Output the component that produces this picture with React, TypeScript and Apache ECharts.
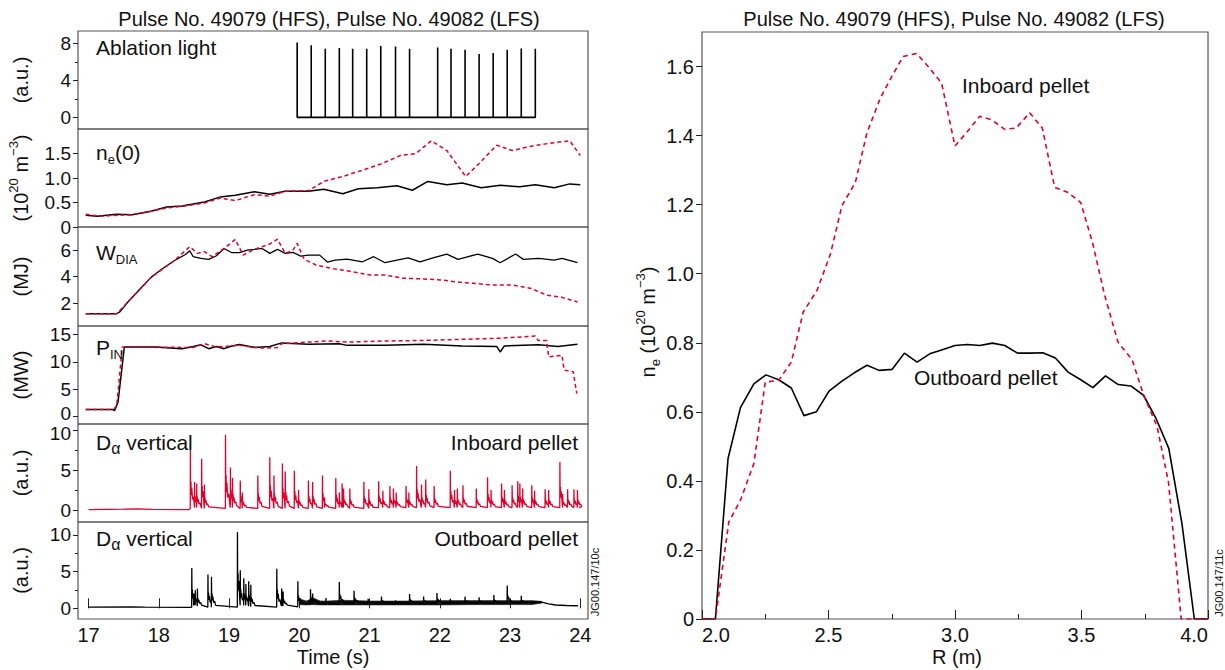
import React, { useEffect, useRef } from 'react';
import * as echarts from 'echarts';

const TITLE = 'Pulse No. 49079 (HFS), Pulse No. 49082 (LFS)';
const FONT = '"Liberation Sans", Arial, Helvetica, sans-serif';
const RED = '#e3002b';

// ---- tick values ----
const timeTicks = [17, 18, 19, 20, 21, 22, 23, 24];
const ablTicks = [0, 4, 8];
const ablMinor = [2, 6];
const neTicks = [0, 0.5, 1.0, 1.5];
const wTicks = [2, 4, 6];
const pTicks = [0, 5, 10, 15];
const daTicks = [0, 5, 10];
const daMinor = [2.5, 7.5];
const rTicks = [2.0, 2.5, 3.0, 3.5, 4.0];
const rMinor = [2.25, 2.75, 3.25, 3.75];
const profTicks = [0, 0.2, 0.4, 0.6, 0.8, 1.0, 1.2, 1.4, 1.6];

// ---- ablation light (pellet times / heights) ----
const ablationT = [19.97, 20.17, 20.37, 20.57, 20.76, 20.96, 21.16, 21.37, 21.57, 21.97, 22.16, 22.36, 22.56, 22.76, 22.96, 23.16, 23.36];
const ablationH = [8.1, 7.8, 7.4, 7.5, 7.4, 7.4, 7.7, 7.65, 7.4, 7.55, 7.4, 7.3, 6.85, 6.95, 7.3, 7.45, 7.4];

// ---- central density ----
const neOutboard: number[][] = [[16.96,0.24],[17.12,0.22],[17.40,0.26],[17.62,0.25],[17.89,0.32],[18.11,0.41],[18.33,0.43],[18.65,0.51],[18.87,0.61],[19.09,0.65],[19.36,0.72],[19.58,0.67],[19.80,0.73],[20.13,0.73],[20.35,0.77],[20.62,0.68],[20.84,0.78],[21.11,0.80],[21.39,0.84],[21.61,0.75],[21.83,0.93],[22.10,0.86],[22.32,0.90],[22.59,0.80],[22.86,0.85],[23.14,0.82],[23.36,0.86],[23.63,0.80],[23.85,0.88],[24.0,0.86]];
const neInboard: number[][] = [[16.96,0.26],[17.18,0.22],[17.40,0.24],[17.62,0.25],[17.89,0.32],[18.11,0.39],[18.33,0.42],[18.65,0.49],[18.87,0.59],[19.09,0.54],[19.36,0.66],[19.58,0.63],[19.80,0.73],[20.13,0.74],[20.35,0.93],[20.62,1.03],[20.90,1.16],[21.17,1.29],[21.44,1.46],[21.66,1.50],[21.88,1.76],[22.10,1.56],[22.37,1.03],[22.59,1.34],[22.81,1.67],[23.03,1.56],[23.30,1.65],[23.57,1.71],[23.85,1.76],[24.0,1.46]];

// ---- diamagnetic energy ----
const wOutboard: number[][] = [[16.96,1.22],[17.40,1.22],[17.45,1.38],[17.56,2.1],[17.72,3.0],[17.89,3.95],[18.05,4.6],[18.22,5.2],[18.38,5.67],[18.44,5.95],[18.49,5.5],[18.60,5.38],[18.71,5.3],[18.82,5.57],[18.93,6.12],[19.04,5.8],[19.15,5.8],[19.26,6.0],[19.36,6.05],[19.47,6.12],[19.58,5.75],[19.69,6.05],[19.80,5.75],[19.91,5.82],[20.02,5.55],[20.13,5.62],[20.29,5.62],[20.40,5.1],[20.51,5.25],[20.68,5.32],[20.90,5.12],[21.06,5.5],[21.22,5.05],[21.39,5.25],[21.55,5.42],[21.72,5.12],[21.88,5.38],[22.10,5.7],[22.26,5.3],[22.54,5.7],[22.75,5.38],[22.86,5.05],[23.08,5.7],[23.19,5.3],[23.41,5.38],[23.63,5.25],[23.74,5.38],[23.96,5.05]];
const wInboard: number[][] = [[16.96,1.22],[17.40,1.22],[17.56,2.1],[17.89,3.95],[18.22,5.2],[18.44,6.25],[18.55,5.75],[18.65,5.88],[18.76,5.5],[18.93,6.12],[19.09,6.8],[19.20,5.62],[19.36,6.05],[19.58,6.45],[19.69,6.82],[19.80,5.75],[19.91,6.0],[19.97,6.5],[20.07,5.3],[20.24,4.88],[20.46,4.62],[20.68,4.45],[21.01,4.12],[21.22,4.12],[21.50,3.88],[21.77,3.83],[22.04,3.75],[22.21,3.62],[22.48,3.5],[22.75,3.38],[23.03,3.38],[23.30,3.12],[23.52,2.62],[23.74,2.45],[23.96,2.1]];

// ---- input power ----
const pOutboard: number[][] = [[16.96,1.33],[17.34,1.33],[17.37,1.1],[17.42,2.7],[17.51,12.7],[17.94,12.7],[18.33,12.4],[18.49,12.8],[18.60,13.1],[18.71,12.4],[18.82,12.8],[18.93,12.4],[19.04,12.9],[19.15,13.15],[19.36,12.6],[19.58,12.8],[19.75,13.45],[20.13,13.2],[20.57,13.3],[20.68,13.0],[21.22,13.0],[21.77,13.2],[22.32,12.9],[22.81,12.8],[22.86,11.8],[22.92,12.9],[23.41,13.1],[23.68,12.8],[23.96,13.2]];
const pInboard: number[][] = [[16.96,1.33],[17.34,1.33],[17.40,1.8],[17.48,12.7],[17.94,12.7],[18.49,12.6],[18.65,13.3],[18.82,12.7],[19.15,13.0],[19.47,12.5],[19.69,12.6],[19.75,13.3],[20.13,13.6],[20.40,13.8],[20.68,13.6],[21.22,13.8],[21.77,13.9],[22.32,14.1],[22.59,14.2],[22.86,14.3],[23.36,14.7],[23.40,13.9],[23.52,13.9],[23.55,10.9],[23.74,11.2],[23.77,8.5],[23.90,8.2],[23.95,4.2]];

// ---- D-alpha: [time, peak, base] ----
const daInQuiet: number[][] = [[17.0,0.05],[17.5,0.1],[17.7,0.15],[17.9,0.08],[18.43,0.05]];
const daInSpikes: number[][] = [[18.45,7.6,0.2],[18.51,3.5,0.3],[18.54,3.3,0.3],[18.61,6.4,0.2],[18.65,3.2,0.2],[18.95,9.4,0.2],[19.02,5.3,0.3],[19.05,4.0,0.3],[19.16,3.7,0.2],[19.19,2.2,0.2],[19.41,4.3,0.2],[19.58,6.6,0.2],[19.64,4.3,0.2],[19.76,5.8,0.2],[19.80,4.8,0.2],[19.93,4.9,0.2],[19.99,2.5,0.2],[20.13,3.7,0.2],[20.19,3.5,0.2],[20.33,4.3,0.2],[20.36,1.5,0.3],[20.52,4.0,0.2],[20.57,2.2,0.3],[20.61,3.3,0.3],[20.63,2.7,0.3],[20.72,2.7,0.2],[20.92,3.5,0.2],[20.99,2.6,0.2],[21.13,3.6,0.3],[21.19,2.4,0.3],[21.29,3.0,0.3],[21.34,2.7,0.3],[21.38,2.2,0.3],[21.52,3.0,0.3],[21.56,2.2,0.3],[21.67,5.5,0.3],[21.74,3.2,0.3],[21.80,3.8,0.3],[21.92,3.0,0.3],[22.15,4.9,0.3],[22.21,2.5,0.3],[22.25,2.7,0.3],[22.33,3.1,0.3],[22.52,2.7,0.3],[22.68,4.1,0.3],[22.73,2.5,0.3],[22.88,3.3,0.3],[22.92,2.5,0.3],[23.03,3.1,0.3],[23.11,3.6,0.3],[23.14,3.3,0.3],[23.18,2.7,0.3],[23.31,3.1,0.3],[23.35,2.4,0.3],[23.50,2.6,0.3],[23.55,2.5,0.3],[23.71,6.0,0.3],[23.75,2.0,0.3],[23.82,2.6,0.3],[23.91,2.6,0.3],[23.96,2.5,0.3]];
const daInEnd: number[][] = [[23.98,0.3]];

const daOutQuiet: number[][] = [[17.0,0.15],[17.6,0.18],[17.8,0.15],[18.45,0.12]];
const daOutSpikes: number[][] = [[18.47,5.5,0.15],[18.50,2.0,0.4],[18.52,2.5,0.4],[18.55,2.7,0.3],[18.70,4.6,0.15],[18.75,4.3,0.15],[19.12,10.4,0.15],[19.16,5.2,0.4],[19.21,4.1,0.4],[19.24,3.3,0.4],[19.28,3.7,0.3],[19.31,3.2,0.2],[19.68,5.4,0.15],[19.75,2.7,0.3],[19.77,2.3,0.3],[19.98,3.7,0.2],[20.01,1.4,0.6],[20.16,2.6,0.6],[20.19,2.0,0.7],[20.38,1.4,0.6],[20.57,3.6,0.6],[20.78,2.4,0.7],[20.98,1.3,0.7],[21.17,1.6,0.7],[21.37,1.1,0.7],[21.57,1.95,0.7],[21.77,1.6,0.7],[21.96,2.1,0.7],[22.15,1.3,0.7],[22.36,1.6,0.7],[22.56,1.5,0.7],[22.77,1.8,0.7],[22.96,3.1,0.7],[23.16,1.7,0.7]];
const daOutEnd: number[][] = [[23.45,0.85],[23.55,0.6],[23.65,0.45],[23.8,0.38],[23.97,0.35]];
const outBandT = [20.0, 20.1, 20.2, 20.3, 20.4, 20.6, 20.8, 21.0, 21.5, 22.0, 22.5, 23.0, 23.3, 23.45];
const outBandLo = [0.5, 0.45, 0.5, 0.45, 0.45, 0.45, 0.45, 0.45, 0.45, 0.45, 0.5, 0.5, 0.5, 0.7];
const outBandHi = [1.3, 1.0, 1.4, 1.0, 1.0, 1.1, 1.05, 1.0, 1.0, 1.05, 1.05, 1.05, 1.05, 0.95];

// ---- density profiles ----
const profR_out = [2.0,2.053,2.103,2.152,2.205,2.253,2.303,2.353,2.403,2.452,2.502,2.553,2.602,2.652,2.70,2.752,2.80,2.85,2.90,2.95,3.0,3.048,3.098,3.148,3.197,3.247,3.297,3.347,3.397,3.447,3.497,3.545,3.595,3.645,3.695,3.745,3.795,3.845,3.897,3.946,4.0];
const profNe_out = [0,0,0.465,0.612,0.681,0.707,0.693,0.669,0.589,0.600,0.660,0.689,0.713,0.735,0.72,0.723,0.770,0.744,0.768,0.78,0.792,0.795,0.792,0.799,0.792,0.770,0.770,0.771,0.756,0.715,0.693,0.670,0.704,0.679,0.675,0.648,0.58,0.494,0.276,0,0];
const profR_in = [2.0,2.053,2.106,2.152,2.205,2.25,2.303,2.353,2.40,2.455,2.508,2.553,2.606,2.652,2.705,2.75,2.795,2.848,2.894,2.947,3.0,3.045,3.098,3.144,3.197,3.242,3.295,3.345,3.394,3.447,3.497,3.545,3.59,3.644,3.70,3.745,3.799,3.844,3.877,3.894,4.0];
const profNe_in = [0,0,0.281,0.344,0.45,0.686,0.691,0.744,0.889,0.952,1.058,1.197,1.264,1.408,1.509,1.571,1.629,1.638,1.6,1.552,1.370,1.408,1.456,1.446,1.418,1.422,1.466,1.422,1.250,1.235,1.206,1.086,0.942,0.802,0.751,0.650,0.557,0.395,0.135,0,0];

// ---- layout (pixels) ----
const L_LEFT = 78, L_WIDTH = 510;
const X_MIN = 16.85, X_MAX = 24.11;
const panels = [
  { top: 31, height: 98, min: -1.26, max: 9.33, ticks: ablTicks, minor: ablMinor },
  { top: 129, height: 98, min: 0, max: 2.0, ticks: neTicks, minor: null },
  { top: 227, height: 99, min: 0.3, max: 7.73, ticks: wTicks, minor: null },
  { top: 326, height: 98, min: -1.33, max: 16.53, ticks: pTicks, minor: null },
  { top: 424, height: 98, min: -1.5, max: 10.75, ticks: daTicks, minor: daMinor },
  { top: 522, height: 97, min: -1.46, max: 11.77, ticks: daTicks, minor: daMinor },
];
const R_GRID = { left: 702, top: 32, width: 506, height: 587 };
const TICK_FS = 19;
const TXT_FS = 21;

// decay shape after each spike: [dt (s), fraction of peak above base]
const TAIL = [[0.003, 0.3], [0.008, 0.45], [0.012, 0.22], [0.02, 0.35], [0.03, 0.15], [0.045, 0.2], [0.06, 0.06]];

function spikeTrace(quiet: number[][], spikes: number[][], end: number[][]) {
  const pts: number[][] = quiet.map((p) => [p[0], p[1]]);
  spikes.forEach(([t, h, b], i) => {
    const next = i + 1 < spikes.length ? spikes[i + 1][0] : Infinity;
    pts.push([t - 0.002, b], [t, h]);
    TAIL.forEach(([dt, f]) => {
      if (t + dt < next - 0.004) pts.push([t + dt, b + (h - b) * f]);
    });
  });
  return pts.concat(end);
}

const dec1 = (v: number) => (v === 0 ? '0' : v.toFixed(1));

const rich = {
  b: { fontSize: TXT_FS, fontFamily: FONT, lineHeight: 28, color: '#111' },
  s: { fontSize: 13, fontFamily: FONT, lineHeight: 13, verticalAlign: 'bottom', color: '#111' },
  a: { fontSize: 16, fontFamily: FONT, lineHeight: 15, verticalAlign: 'bottom', color: '#111' },
};
const richN = {
  b: { fontSize: 20, fontFamily: FONT, lineHeight: 28, color: '#111' },
  s: { fontSize: 13, fontFamily: FONT, lineHeight: 13, verticalAlign: 'bottom', color: '#111' },
  u: { fontSize: 13, fontFamily: FONT, lineHeight: 11, verticalAlign: 'top', color: '#111' },
};
const nudgeRich = {
  up: { fontSize: TICK_FS, fontFamily: FONT, color: '#111', padding: [0, 0, 6, 0] },
  dn: { fontSize: TICK_FS, fontFamily: FONT, color: '#111', padding: [6, 0, 0, 0] },
};

export default function App() {
  const ref = useRef<HTMLDivElement>(null);
  useEffect(() => {
    if (!ref.current) return;
    const chart = echarts.init(ref.current, null, { renderer: 'svg' });

    const grids: any[] = panels.map((p) => ({
      left: L_LEFT, top: p.top, width: L_WIDTH, height: p.height,
      show: true, borderColor: '#555', borderWidth: 1.2, backgroundColor: 'transparent',
    }));
    grids.push({ ...R_GRID, show: true, borderColor: '#555', borderWidth: 1.2, backgroundColor: 'transparent' });

    const xAxes: any[] = panels.map((p, i) => ({
      type: 'value', gridIndex: i, min: X_MIN, max: X_MAX, position: 'bottom',
      show: i === panels.length - 1,
      axisLine: { show: false }, splitLine: { show: false },
      axisTick: { show: true, inside: true, length: 10, customValues: timeTicks, lineStyle: { color: '#222', width: 1 } },
      axisLabel: { show: true, customValues: timeTicks, fontSize: TICK_FS + 1, color: '#111', fontFamily: FONT, margin: 6 },
    }));
    xAxes.push({
      type: 'value', gridIndex: 6, min: 2, max: 4, position: 'bottom',
      axisLine: { show: false }, splitLine: { show: false },
      axisTick: { show: true, inside: true, length: 9, customValues: rTicks, lineStyle: { color: '#222', width: 1 } },
      axisLabel: { show: true, customValues: rTicks, formatter: (v: number) => v.toFixed(1), fontSize: TICK_FS + 1, color: '#111', fontFamily: FONT, margin: 6, alignMinLabel: 'left', alignMaxLabel: 'right' },
    });
    xAxes.push({
      type: 'value', gridIndex: 6, min: 2, max: 4, position: 'bottom',
      axisLine: { show: false }, splitLine: { show: false },
      axisTick: { show: true, inside: true, length: 5, customValues: rMinor, lineStyle: { color: '#222', width: 1 } },
      axisLabel: { show: false },
    });

    const labelFmt = (i: number) => (v: number) => {
      if (i === 1) return dec1(v);
      if (i === 3 && v === 0) return '{up|0}';
      if (i === 4 && v === 10) return '{dn|10}';
      return String(v);
    };

    const yAxes: any[] = panels.map((p, i) => ({
      type: 'value', gridIndex: i, min: p.min, max: p.max, position: 'left',
      axisLine: { show: false }, splitLine: { show: false },
      axisTick: { show: true, inside: false, length: 5, customValues: p.ticks, lineStyle: { color: '#222', width: 1 } },
      axisLabel: { show: true, customValues: p.ticks, formatter: labelFmt(i), rich: nudgeRich, fontSize: TICK_FS, color: '#111', fontFamily: FONT, margin: 7 },
    }));
    yAxes.push({
      type: 'value', gridIndex: 6, min: 0, max: 1.7, position: 'left',
      axisLine: { show: false }, splitLine: { show: false },
      axisTick: { show: true, inside: false, length: 6, customValues: profTicks, lineStyle: { color: '#222', width: 1 } },
      axisLabel: { show: true, customValues: profTicks, formatter: dec1, fontSize: TICK_FS + 1, color: '#111', fontFamily: FONT, margin: 8 },
    });
    panels.forEach((p, i) => {
      if (p.minor) {
        yAxes.push({
          type: 'value', gridIndex: i, min: p.min, max: p.max, position: 'left', offset: 0,
          axisLine: { show: false }, splitLine: { show: false },
          axisTick: { show: true, inside: false, length: 3, customValues: p.minor, lineStyle: { color: '#222', width: 1 } },
          axisLabel: { show: false },
        });
      }
    });

    const ablData: number[][] = [];
    ablationT.forEach((t, i) => { ablData.push([t, 0], [t, ablationH[i]], [t, 0]); });

    const black = (w = 1.5) => ({ color: '#000', width: w });
    const redDash = { color: RED, width: 1.5, type: [4, 3] };
    const line = (xi: number, yi: number, data: number[][], ls: any, z = 2) => ({
      type: 'line', xAxisIndex: xi, yAxisIndex: yi, data, showSymbol: false, symbol: 'none',
      lineStyle: ls, itemStyle: { color: ls.color }, silent: true, z,
    });

    const bandData = outBandT.slice(0, -1).map((t, i) => [t, outBandLo[i], outBandHi[i], outBandT[i + 1], outBandLo[i + 1], outBandHi[i + 1]]);

    const series: any[] = [
      line(0, 0, ablData, black(1.6)),
      line(1, 1, neOutboard, black()),
      line(1, 1, neInboard, redDash, 3),
      line(2, 2, wOutboard, black(1.3)),
      line(2, 2, wInboard, redDash, 3),
      line(3, 3, pOutboard, black()),
      line(3, 3, pInboard, redDash, 3),
      line(4, 4, spikeTrace(daInQuiet, daInSpikes, daInEnd), { color: RED, width: 1.3 }),
      {
        type: 'custom', xAxisIndex: 5, yAxisIndex: 5, coordinateSystem: 'cartesian2d', silent: true,
        data: bandData, encode: { x: 0, y: [1, 2] },
        renderItem: (params: any, api: any) => {
          const a = api.coord([api.value(0), api.value(1)]);
          const b = api.coord([api.value(3), api.value(4)]);
          const c = api.coord([api.value(3), api.value(5)]);
          const d = api.coord([api.value(0), api.value(2)]);
          return { type: 'polygon', shape: { points: [a, b, c, d] }, style: { fill: '#111', stroke: '#111', lineWidth: 0.5 } };
        },
      },
      line(5, 5, spikeTrace(daOutQuiet, daOutSpikes, daOutEnd), black(1.3)),
      line(6, 6, profR_out.map((r, i) => [r, profNe_out[i]]), black(1.6)),
      line(6, 6, profR_in.map((r, i) => [r, profNe_in[i]]), { color: RED, width: 1.6, type: [5, 4] }, 3),
    ];

    const T = (text: string, x: number, y: number, opts: any = {}) => ({
      type: 'text', x, y, silent: true, rotation: opts.rotation || 0,
      style: { text, fill: '#111', font: `${opts.size || TXT_FS}px ${FONT}`, fontFamily: FONT, fontSize: opts.size || TXT_FS, align: opts.align || 'left', verticalAlign: 'middle', rich: opts.rich },
      z: 10,
    });
    const ROT = Math.PI / 2;
    const cy = (i: number) => panels[i].top + panels[i].height / 2;
    const graphic: any[] = [
      T(TITLE, 329, 19, { align: 'center', size: 20 }),
      T(TITLE, 954, 19, { align: 'center', size: 20 }),
      T('{b|(a.u.)}', 21, cy(0), { align: 'center', rotation: ROT, rich: richN }),
      T('{b|(10}{u|20}{b| m}{u|\u22123}{b|)}', 21, cy(1), { align: 'center', rotation: ROT, rich: richN }),
      T('{b|(MJ)}', 21, cy(2), { align: 'center', rotation: ROT, rich: richN }),
      T('{b|(MW)}', 21, cy(3), { align: 'center', rotation: ROT, rich: richN }),
      T('{b|(a.u.)}', 21, cy(4), { align: 'center', rotation: ROT, rich: richN }),
      T('{b|(a.u.)}', 21, cy(5), { align: 'center', rotation: ROT, rich: richN }),
      T('{b|n}{s|e}{b| (10}{u|20}{b| m}{u|\u22123}{b|)}', 648, 322, { align: 'center', rotation: ROT, rich: richN }),
      T('Time (s)', 333, 657, { align: 'center', size: 20 }),
      T('R (m)', 957, 657, { align: 'center', size: 20 }),
      T('Ablation light', 96, 47),
      T('{b|n}{s|e}{b|(0)}', 96, 152, { rich }),
      T('{b|W}{s|DIA}', 96, 252, { rich }),
      T('{b|P}{s|IN}', 96, 347, { rich }),
      T('{b|D}{a|\u03b1}{b| vertical}', 96, 442, { rich }),
      T('Inboard pellet', 578, 442, { align: 'right' }),
      T('{b|D}{a|\u03b1}{b| vertical}', 96, 538, { rich }),
      T('Outboard pellet', 578, 538, { align: 'right' }),
      T('Inboard pellet', 962, 85),
      T('Outboard pellet', 914, 377),
      T('JG00.147/10c', 595, 582, { align: 'center', rotation: ROT, size: 11 }),
      T('JG00.147/11c', 1219, 583, { align: 'center', rotation: ROT, size: 11 }),
    ];

    chart.setOption({
      animation: false,
      textStyle: { fontFamily: FONT },
      grid: grids,
      xAxis: xAxes,
      yAxis: yAxes,
      series,
      graphic,
    });
    return () => chart.dispose();
  }, []);
  return <div ref={ref} style={{ position: 'absolute', left: 0, top: 0, width: 1225, height: 670, background: '#fff' }} />;
}
